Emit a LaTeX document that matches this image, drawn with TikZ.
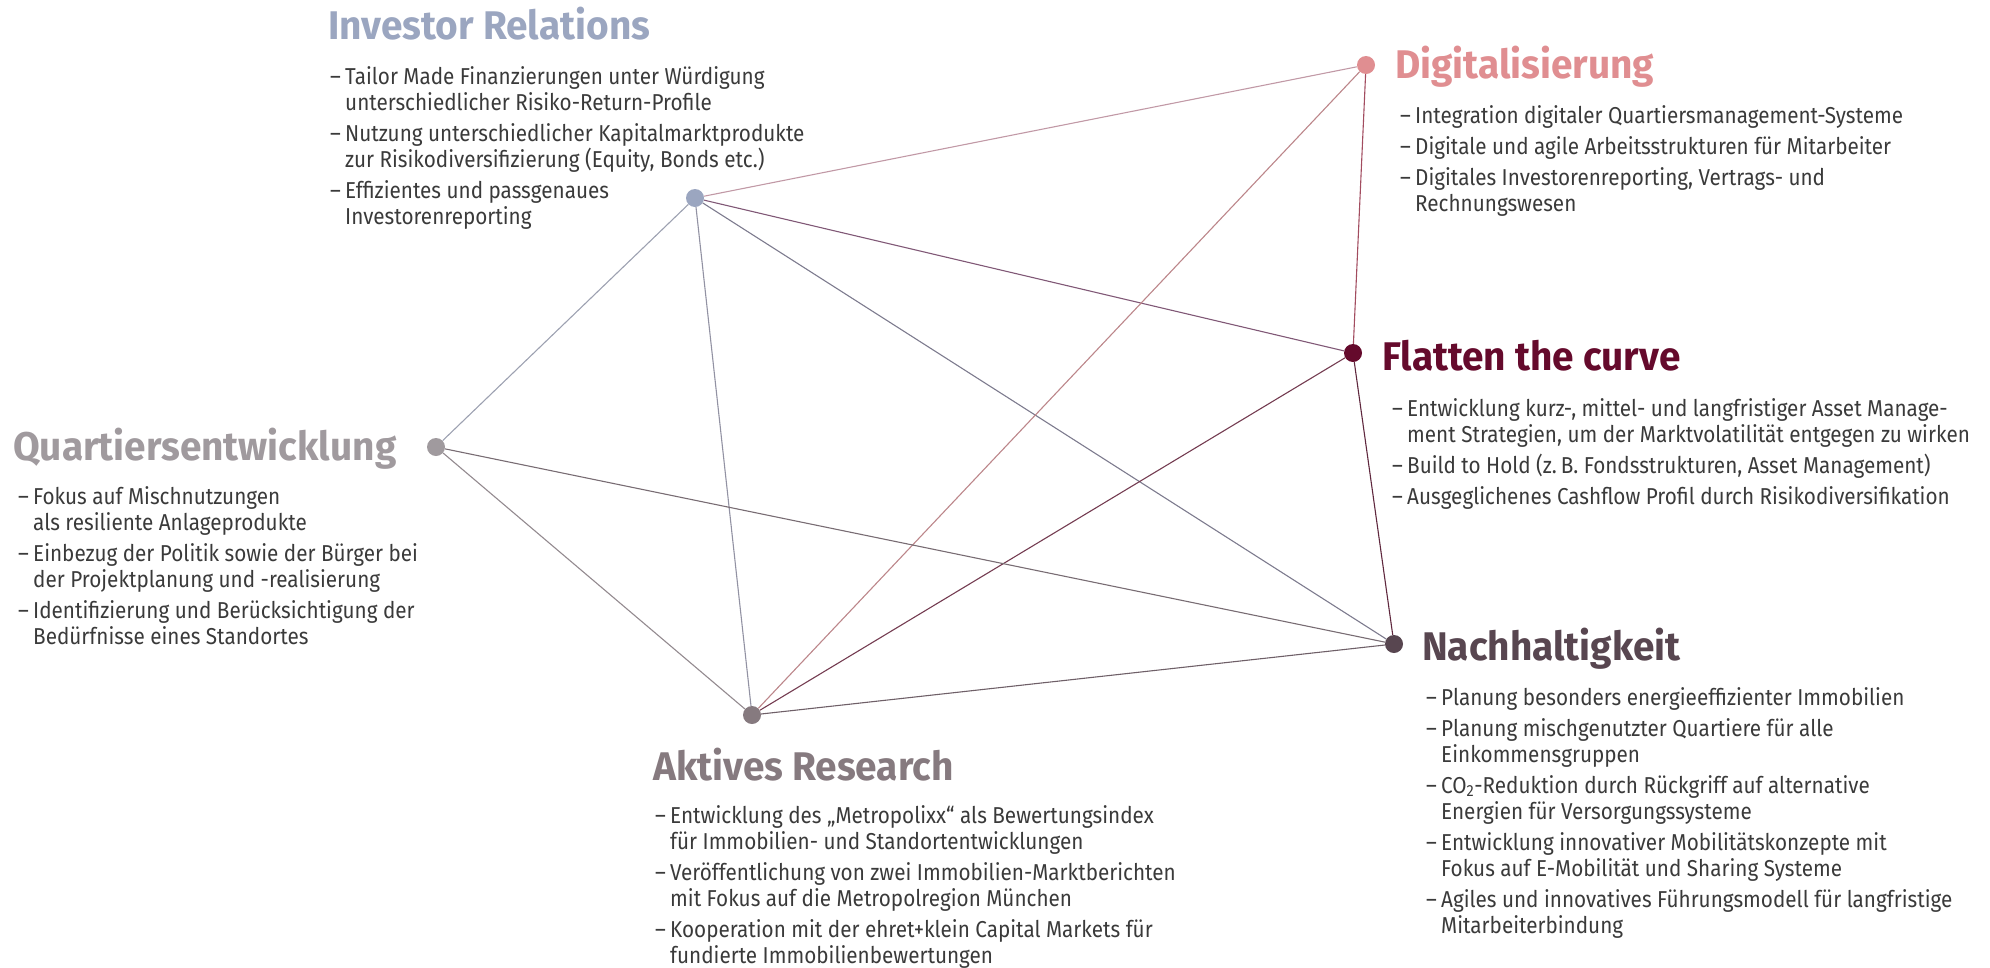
\documentclass[tikz,border=0pt]{standalone}
\usepackage{fontspec}
\setmainfont{Fira Sans}[FakeStretch=0.9]
\newfontfamily\headfont{Fira Sans}[FakeStretch=0.97]

\definecolor{irc}{RGB}{155,166,192}
\definecolor{digc}{RGB}{224,142,145}
\definecolor{flatc}{RGB}{101,10,44}
\definecolor{quartc}{RGB}{160,154,158}
\definecolor{nachc}{RGB}{88,70,80}
\definecolor{aktc}{RGB}{134,122,127}
\definecolor{txtc}{RGB}{58,58,58}

\newcommand{\dashitem}{\makebox[15pt][l]{–}}
\newcommand{\dashgap}{\hspace*{15pt}}

\tikzset{
  dot/.style={circle, inner sep=0pt, minimum size=18pt},
  head/.style={anchor=base west, inner sep=0pt, font={\headfont\fontsize{40}{40}\selectfont\bfseries}},
  body/.style={anchor=north west, inner sep=0pt, align=left, text=txtc, font={\fontsize{23}{26}\selectfont}},
  link/.style={line width=1.1pt},
}

\begin{document}
\begin{tikzpicture}[x=1pt, y=-1pt]
  \useasboundingbox (0,0) rectangle (1990,967);

  % dots
  \node[dot, fill=irc] (ir) at (695,198) {};
  \node[dot, fill=digc] (dig) at (1366,65) {};
  \node[dot, fill=flatc] (flat) at (1353,353) {};
  \node[dot, fill=quartc] (quart) at (436,447) {};
  \node[dot, fill=nachc] (nach) at (1394,644) {};
  \node[dot, fill=aktc] (akt) at (752,715) {};

  % links
  \draw[link, irc!45!digc] (ir) -- (dig);
  \draw[link, irc!50!flatc] (ir) -- (flat);
  \draw[link, irc!55!nachc] (ir) -- (nach);
  \draw[link, irc!55!aktc] (ir) -- (akt);
  \draw[link, irc!55!quartc] (ir) -- (quart);
  \draw[link, digc!50!flatc] (dig) -- (flat);
  \draw[link, digc!60!aktc] (dig) -- (akt);
  \draw[link, flatc!55!aktc] (flat) -- (akt);
  \draw[link, flatc!50!nachc] (flat) -- (nach);
  \draw[link, quartc!45!nachc] (quart) -- (nach);
  \draw[link, quartc!50!aktc] (quart) -- (akt);
  \draw[link, aktc!50!nachc] (akt) -- (nach);

  % headings
  \node[head, text=irc] (irhead) at (328,39) {Investor Relations};
  \node[head, text=digc] (dighead) at (1395,78) {Digitalisierung};
  \node[head, text=flatc] (flathead) at (1382,370) {Flatten the curve};
  \node[head, text=quartc] (quarthead) at (13,460) {Quartiersentwicklung};
  \node[head, text=nachc] (nachhead) at (1422,660) {Nachhaltigkeit};
  \node[head, text=aktc] (akthead) at (653,780) {Aktives Research};

  % texts
  \node[body] (irtext) at (330,66) {%
    \dashitem Tailor Made Finanzierungen unter Würdigung\\
    \dashgap unterschiedlicher Risiko-Return-Profile\\[5pt]
    \dashitem Nutzung unterschiedlicher Kapitalmarktprodukte\\
    \dashgap zur Risikodiversifizierung (Equity, Bonds etc.)\\[5pt]
    \dashitem Effizientes und passgenaues\\
    \dashgap Investorenreporting};
  \node[body] (digtext) at (1400,105) {%
    \dashitem Integration digitaler Quartiersmanagement-Systeme\\[5pt]
    \dashitem Digitale und agile Arbeitsstrukturen für Mitarbeiter\\[5pt]
    \dashitem Digitales Investorenreporting, Vertrags- und\\
    \dashgap Rechnungswesen};
  \node[body] (flattext) at (1392,398) {%
    \dashitem Entwicklung kurz-, mittel- und langfristiger Asset Manage-\\
    \dashgap ment Strategien, um der Marktvolatilität entgegen zu wirken\\[5pt]
    \dashitem Build to Hold (z.\,B. Fondsstrukturen, Asset Management)\\[5pt]
    \dashitem Ausgeglichenes Cashflow Profil durch Risikodiversifikation};
  \node[body] (quarttext) at (18,486) {%
    \dashitem Fokus auf Mischnutzungen\\
    \dashgap als resiliente Anlageprodukte\\[5pt]
    \dashitem Einbezug der Politik sowie der Bürger bei\\
    \dashgap der Projektplanung und -realisierung\\[5pt]
    \dashitem Identifizierung und Berücksichtigung der\\
    \dashgap Bedürfnisse eines Standortes};
  \node[body] (nachtext) at (1426,687) {%
    \dashitem Planung besonders energieeffizienter Immobilien\\[5pt]
    \dashitem Planung mischgenutzter Quartiere für alle\\
    \dashgap Einkommensgruppen\\[5pt]
    \dashitem CO\textsubscript{2}-Reduktion durch Rückgriff auf alternative\\
    \dashgap Energien für Versorgungssysteme\\[5pt]
    \dashitem Entwicklung innovativer Mobilitätskonzepte mit\\
    \dashgap Fokus auf E-Mobilität und Sharing Systeme\\[5pt]
    \dashitem Agiles und innovatives Führungsmodell für langfristige\\
    \dashgap Mitarbeiterbindung};
  \node[body] (akttext) at (655,805) {%
    \dashitem Entwicklung des „Metropolixx“ als Bewertungsindex\\
    \dashgap für Immobilien- und Standortentwicklungen\\[5pt]
    \dashitem Veröffentlichung von zwei Immobilien-Marktberichten\\
    \dashgap mit Fokus auf die Metropolregion München\\[5pt]
    \dashitem Kooperation mit der ehret+klein Capital Markets für\\
    \dashgap fundierte Immobilienbewertungen};
\end{tikzpicture}
\end{document}
